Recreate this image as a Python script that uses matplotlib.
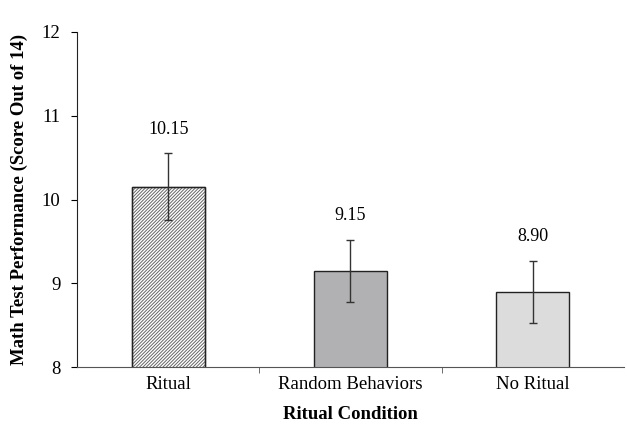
import numpy as np
import matplotlib.pyplot as plt

conditions = ["Ritual", "Random Behaviors", "No Ritual"]
scores = [10.15, 9.15, 8.90]
errors = [0.40, 0.37, 0.37]

plt.rcParams['font.family'] = ['Liberation Serif', 'DejaVu Serif']
plt.rcParams['hatch.linewidth'] = 0.7

fig = plt.figure(figsize=(6.27, 4.25), dpi=100)
ax = fig.add_axes([0.123, 0.136, 0.872, 0.789])

x = np.arange(len(conditions))
bars = ax.bar(x, scores, width=0.4, bottom=0, edgecolor='#222222', linewidth=1.0,
              color=['white', '#b1b1b3', '#dcdcdd'])
bars[0].set_hatch('//////////')
bars[0].set_edgecolor('#666666')
# redraw black outline over the hatched bar
ax.bar(x[0], scores[0], width=0.4, fill=False, edgecolor='#222222', linewidth=1.0)

ax.errorbar(x, scores, yerr=errors, fmt='none', ecolor='#333333', elinewidth=1.0,
            capsize=3, capthick=1.0)

for xi, s, e in zip(x, scores, errors):
    ax.text(xi, s + e + 0.19, f"{s:.2f}", ha='center', va='bottom', fontsize=13)

ax.set_ylim(8, 12)
ax.set_xlim(-0.5, 2.5)
ax.set_yticks([8, 9, 10, 11, 12])
ax.set_xticks(x)
ax.set_xticklabels(conditions, fontsize=13.5)
ax.set_xticks([0.5, 1.5], minor=True)
ax.tick_params(axis='x', which='major', length=0, pad=6)
ax.tick_params(axis='x', which='minor', length=4, direction='out', color='#555555')
ax.tick_params(axis='y', labelsize=13.5, length=4, direction='out', pad=8)

for side in ['top', 'right']:
    ax.spines[side].set_visible(False)
ax.spines['bottom'].set_color('#555555')
ax.spines['left'].set_color('#222222')

ax.set_xlabel("Ritual Condition", fontsize=13.5, fontweight='bold', labelpad=10)
ax.set_ylabel("Math Test Performance (Score Out of 14)", fontsize=13.5, fontweight='bold', labelpad=10)

fig.savefig("out.png", dpi=100)
